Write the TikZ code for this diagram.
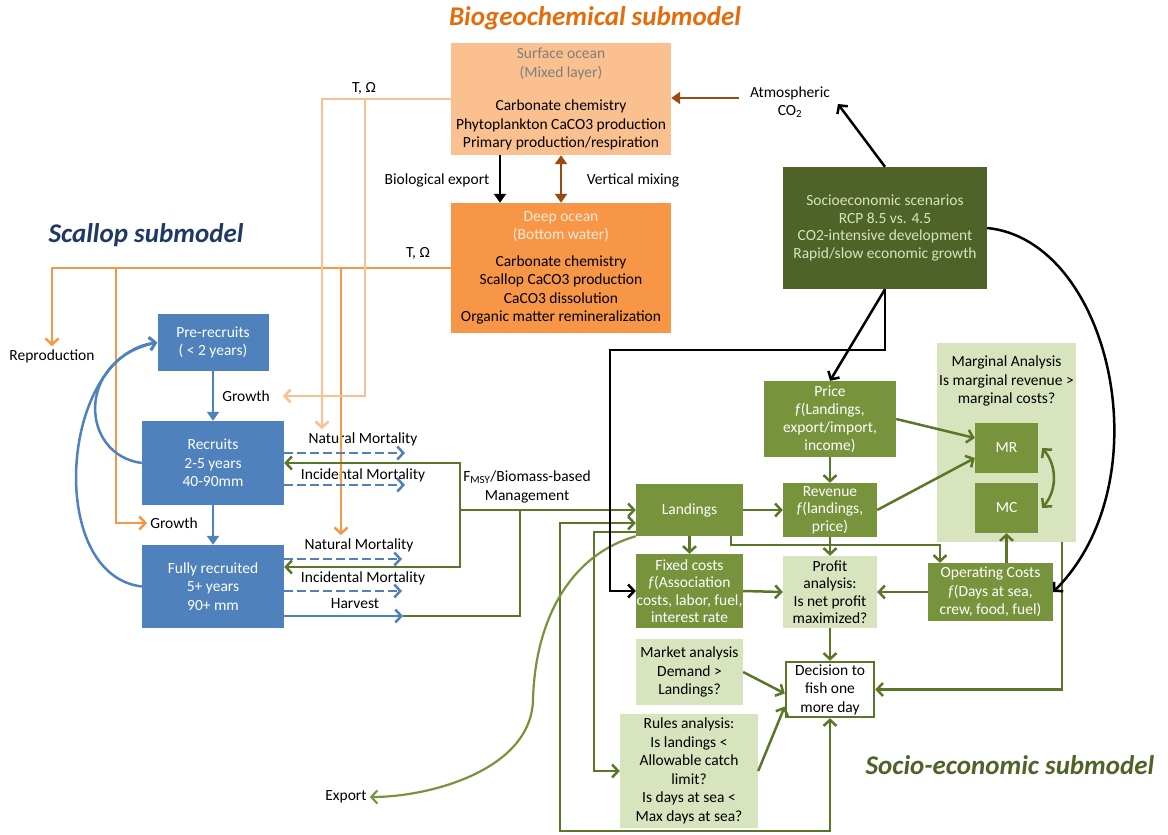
\documentclass[tikz,border=0pt]{standalone}
\usepackage{fontspec}
\setmainfont{Carlito}
\usetikzlibrary{arrows.meta}

\definecolor{peach}{HTML}{FAC090}
\definecolor{deeporange}{HTML}{F79646}
\definecolor{rust}{HTML}{9C4A12}
\definecolor{scalblue}{HTML}{4F81BD}
\definecolor{boxgreen}{HTML}{77933C}
\definecolor{linegreen}{HTML}{5A7628}
\definecolor{darkolive}{HTML}{4F6228}
\definecolor{palegreen}{HTML}{D7E4BD}
\definecolor{navytitle}{HTML}{1F3864}
\definecolor{titleorange}{HTML}{E46C0A}
\definecolor{greytext}{HTML}{7F7F7F}
\definecolor{cream}{HTML}{FDEADA}

\begin{document}
\begin{tikzpicture}[
  x=1pt, y=-1pt,
  >={Straight Barb[length=6pt,width=13pt]},
  every node/.style={font=\fontsize{15.5}{18.5}\selectfont, align=center, inner sep=0pt},
  sz/.style 2 args={minimum width=#1, minimum height=#2},
  ocn/.style={fill=#1},
  stg/.style={fill=scalblue, text=white},
  eco/.style={fill=boxgreen, text=white},
  qry/.style={fill=palegreen},
  lbl/.style={inner sep=3pt},
  ttl/.style={font=\fontsize{27}{30}\selectfont\bfseries\itshape},
  ln/.style={line width=2.5pt, draw=#1},
  tri/.style={-{Triangle[length=9pt,width=12pt]}},
  dsh/.style={dash pattern=on 9pt off 4pt}
]
\useasboundingbox (0,0) rectangle (1168,835);

% titles
\node[ttl, text=titleorange] (tbgc) at (595,18) {Biogeochemical submodel};
\node[ttl, text=navytitle] (tscal) at (146,235) {Scallop submodel};
\node[ttl, text=darkolive] (tsoc) at (1010,765) {Socio-economic submodel};

% biogeochemical submodel
\node[ocn=peach, sz={220}{112}] (surf) at (561,99)
  {\textcolor{greytext}{Surface ocean}\\\textcolor{greytext}{(Mixed layer)}\\[15pt]
   Carbonate chemistry\\Phytoplankton CaCO3 production\\Primary production/respiration};
\node[ocn=deeporange, sz={220}{130}] (deep) at (561,268)
  {\textcolor{cream}{Deep ocean}\\\textcolor{cream}{(Bottom water)}\\[8pt]
   Carbonate chemistry\\Scallop CaCO3 production\\CaCO3 dissolution\\Organic matter remineralization};
\node[lbl] (bioexp) at (437,180) {Biological export};
\node[lbl] (vmix) at (633,180) {Vertical mixing};
\node[lbl] (atm) at (790,102) {Atmospheric\\CO\textsubscript{2}};
\node[lbl] (tomu) at (364,88) {T, Ω};
\node[lbl] (toml) at (418,253) {T, Ω};
\coordinate (atmout) at (739,98);
\coordinate (co2in) at (838,104);

% scallop submodel
\node[stg, sz={111}{57}] (pre) at (213,342.5) {Pre-recruits\\( < 2 years)};
\node[stg, sz={142}{84}] (rec) at (213,463) {Recruits\\2-5 years\\40-90mm};
\node[stg, sz={142}{83}] (full) at (213,586.5) {Fully recruited\\5+ years\\90+ mm};
\node[lbl] (repro) at (52,356) {Reproduction};
\node[lbl] (growb) at (246,396) {Growth};
\node[lbl] (growa) at (174,523) {Growth};
\node[lbl] (nma) at (363,439) {Natural Mortality};
\node[lbl] (ima) at (363,475) {Incidental Mortality};
\node[lbl] (nmb) at (359,545) {Natural Mortality};
\node[lbl] (imb) at (363,578) {Incidental Mortality};
\node[lbl] (harv) at (355,604) {Harvest};
\node[lbl] (fmsy) at (527,487) {F\textsubscript{MSY}/Biomass-based\\Management};
\node[lbl] (export) at (346,797) {Export};
\coordinate (nmaend) at (405,453);
\coordinate (imaend) at (405,485);
\coordinate (nmbend) at (402,559);
\coordinate (imbend) at (402,591);
\coordinate (harvend) at (403,616);

% socio-economic submodel
\node[fill=darkolive, text=palegreen, sz={204}{122}, font=\fontsize{15.5}{17.7}\selectfont] (socio) at (885,228)
  {Socioeconomic scenarios\\RCP 8.5 vs. 4.5\\CO2-intensive development\\Rapid/slow economic growth};
\node[qry, sz={139}{199}] (marg) at (1006.5,442.5) {};
\node (margtxt) at (1006.5,381) {Marginal Analysis\\Is marginal revenue >\\marginal costs?};
\node[eco, sz={63}{50}] (mr) at (1006.5,448) {MR};
\node[eco, sz={63}{50}] (mc) at (1006.5,508) {MC};
\node[eco, sz={132}{76}, font=\fontsize{15.5}{18}\selectfont] (price) at (830,419)
  {Price\\\textit{f}(Landings,\\export/import,\\income)};
\node[eco, sz={107}{52}] (landings) at (689.5,510) {Landings};
\node[eco, sz={94}{54}, font=\fontsize{15.5}{17.5}\selectfont] (revenue) at (830,510)
  {Revenue\\\textit{f}(landings,\\price)};
\node[eco, sz={107}{74}, font=\fontsize{15.5}{17.5}\selectfont] (fixed) at (689.5,591)
  {Fixed costs\\\textit{f}(Association\\costs, labor, fuel,\\interest rate};
\node[qry, sz={94}{72}, font=\fontsize{15.5}{17.5}\selectfont] (profit) at (830,592)
  {Profit\\analysis:\\Is net profit\\maximized?};
\node[eco, sz={125}{58}] (opcost) at (990.5,592) {Operating Costs\\\textit{f}(Days at sea,\\crew, food, fuel)};
\node[qry, sz={107}{66}] (market) at (689.5,672) {Market analysis\\Demand >\\Landings?};
\node[qry, sz={138}{114}] (rules) at (689,771)
  {Rules analysis:\\Is landings <\\Allowable catch\\limit?\\Is days at sea <\\Max days at sea?};
\node[draw=linegreen, line width=2.5pt, fill=white, sz={88}{55}] (decision) at (830,689.5)
  {Decision to\\fish one\\more day};

% ocean exchange
\draw[ln=black, tri] (500,0 |- surf.south) -- (500,0 |- deep.north);
\draw[ln=rust, {Triangle[length=9pt,width=12pt]}-{Triangle[length=9pt,width=12pt]}]
  (561,0 |- surf.south) -- (561,0 |- deep.north);
\draw[ln=rust, tri] (atmout) -- (surf.east |- atmout);
\draw[ln=black, ->] (socio.north) -- (co2in);

% T, Omega forcing
\draw[ln=deeporange, ->] (deep.west) -| (repro.north);
\draw[ln=deeporange, ->] (116,0 |- deep.west) |- (growa.west);
\draw[ln=deeporange, ->] (341,0 |- deep.west) -- (341,0 |- nmb.north);
\draw[ln=peach, ->] (surf.west) -| (322,0 |- nma.north);
\draw[ln=peach, ->] (365,0 |- surf.west) |- ([xshift=10]growb.east);

% scallop stages
\draw[ln=scalblue, tri] (pre.south) -- (rec.north);
\draw[ln=scalblue, tri] (rec.south) -- (full.north);
\draw[ln=scalblue, ->] (rec.west) .. controls (80,455) and (75,360) .. (pre.west);
\draw[ln=scalblue, ->] (full.west) .. controls (45,575) and (60,355) .. (pre.west);
\draw[ln=scalblue, dsh, ->] (rec.east |- nmaend) -- (nmaend);
\draw[ln=scalblue, dsh, ->] (rec.east |- imaend) -- (imaend);
\draw[ln=scalblue, dsh, ->] (full.east |- nmbend) -- (nmbend);
\draw[ln=scalblue, dsh, ->] (full.east |- imbend) -- (imbend);
\draw[ln=scalblue, ->] (full.east |- harvend) -- (harvend);

% management and landings
\draw[ln=linegreen] (harvend) -| (520,0 |- landings.west);
\draw[ln=linegreen, ->] (460,0 |- landings.west) -- (landings.west);
\draw[ln=linegreen, <->] (rec.east) -| (460,567) -- ([yshift=19.5]full.east);
\draw[ln=linegreen, <->] ([yshift=-13]landings.west) -| (560,831) -| (decision.south);
\draw[ln=linegreen, ->] ([yshift=-22]landings.west) -| (594,0 |- rules.west) -- (rules.west);
\draw[line width=2.2pt, draw=boxgreen, ->] (landings.south west)
  .. controls (570,555) and (535,620) .. (533,700)
  .. controls (531,770) and (430,797) .. (export.east);

% economics
\draw[ln=linegreen, ->] (landings) -- (revenue);
\draw[ln=linegreen, ->] (price) -- (revenue);
\draw[ln=linegreen, ->] (price.east) -- ([yshift=10]mr.west);
\draw[ln=linegreen, ->] (revenue.east) -- ([yshift=-10]mr.west);
\draw[ln=linegreen, ->] (landings) -- (fixed);
\draw[ln=linegreen, ->] (731,0 |- landings.south) |- (940,545) -- (940,0 |- opcost.north);
\draw[ln=linegreen, ->] (revenue) -- (profit);
\draw[ln=linegreen, ->] (fixed.east) -- (profit.west);
\draw[ln=linegreen, ->] (opcost) -- (profit);
\draw[ln=linegreen, ->] (mc.south |- opcost.north) -- (mc.south);
\draw[ln=linegreen, <->] ([xshift=4]mr.east) to[bend left=40] ([xshift=4]mc.east);
\draw[ln=linegreen, ->] (1062,0 |- marg.south) |- (decision.east);
\draw[ln=linegreen, ->] (profit) -- (decision);
\draw[ln=linegreen, ->] (market.east) -- ([yshift=-4]decision.west);
\draw[ln=linegreen, ->] (rules.east) -- ([yshift=-17]decision.west);

% scenario drivers
\draw[ln=black, ->] (socio.south) -- (price.north);
\draw[ln=black, ->] (socio.south) -- ++(0,61) -| (610,0 |- fixed.west) -- (fixed.west);
\draw[ln=black, ->] (socio.east) .. controls (1110,240) and (1165,480) .. (opcost.east);
\end{tikzpicture}
\end{document}
